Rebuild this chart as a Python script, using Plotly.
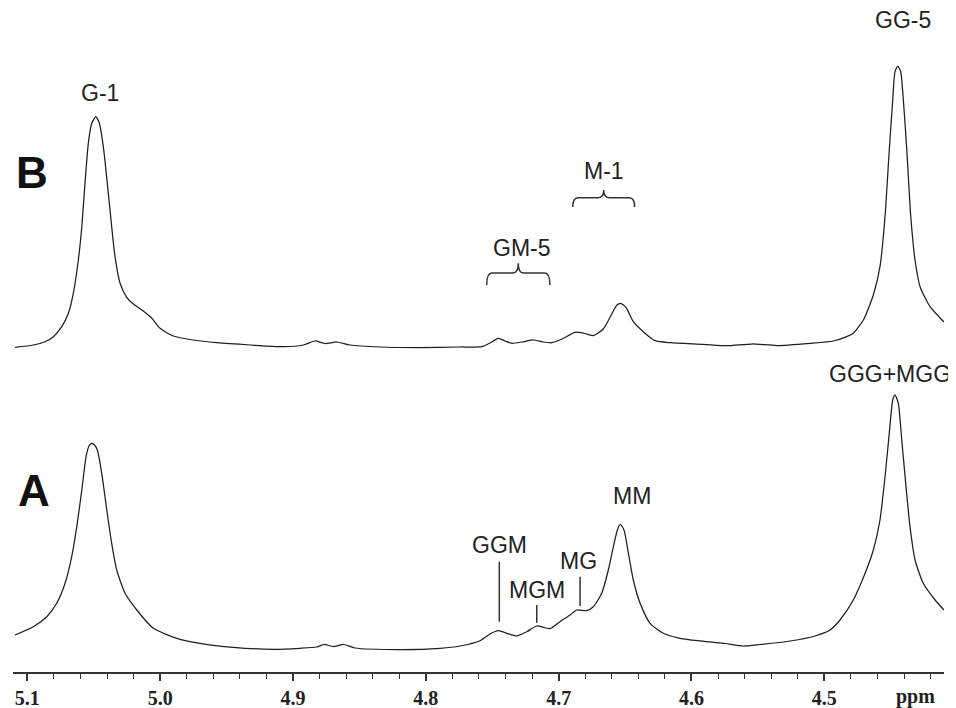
import plotly.graph_objects as go

# ---------------- data ----------------
# Trace B (upper spectrum): chemical shift (ppm) and signal height above its baseline
ppm_B = [5.1093, 5.0955, 5.0867, 5.0804, 5.0741, 5.0691, 5.0654, 5.0616, 5.0590, 5.0566,
         5.0541, 5.0515, 5.0485, 5.0458, 5.0428, 5.0398, 5.0365, 5.0340, 5.0302, 5.0252,
         5.0202, 5.0127, 5.0063, 5.0001, 4.9901, 4.9750, 4.9574, 4.9323, 4.9073, 4.8922,
         4.8834, 4.8759, 4.8668, 4.8571, 4.8345, 4.8044, 4.7742, 4.7579, 4.7517, 4.7454,
         4.7404, 4.7353, 4.7276, 4.7191, 4.7118, 4.7052, 4.6967, 4.6877, 4.6801, 4.6739,
         4.6664, 4.6624, 4.6588, 4.6561, 4.6534, 4.6512, 4.6488, 4.6438, 4.6363, 4.6274,
         4.6161, 4.5911, 4.5735, 4.5546, 4.5358, 4.5108, 4.4932, 4.4831, 4.4782, 4.4706,
         4.4631, 4.4581, 4.4543, 4.4511, 4.4485, 4.4468, 4.4447, 4.4425, 4.4405, 4.4379,
         4.4349, 4.4317, 4.4279, 4.4204, 4.4099]
int_B = [0.7, 3.0, 6.3, 11.3, 21.3, 34.7, 54.7, 88.0, 121.3, 164.7,
         204.7, 224.7, 231.3, 224.7, 201.3, 164.7, 121.3, 91.3, 64.7, 50.7,
         44.0, 37.0, 29.7, 19.7, 12.0, 8.0, 5.3, 3.0, 1.3, 3.0,
         7.0, 4.5, 6.0, 3.0, 1.0, 0.5, 1.0, 1.3, 5.0, 9.7,
         7.0, 4.7, 6.0, 8.0, 6.0, 5.3, 9.5, 15.7, 14.5, 12.3,
         19.0, 28.0, 37.0, 43.0, 44.7, 43.0, 39.7, 26.3, 16.3, 7.3,
         5.3, 3.7, 2.3, 4.0, 2.5, 4.7, 7.0, 11.3, 14.7, 28.0,
         53.0, 81.3, 131.3, 198.0, 248.0, 276.3, 282.0, 276.3, 248.0, 198.0,
         131.3, 88.0, 61.3, 41.3, 26.0]

# Trace A (lower spectrum)
ppm_A = [5.1093, 5.0955, 5.0854, 5.0779, 5.0716, 5.0666, 5.0628, 5.0590, 5.0558, 5.0536,
         5.0515, 5.0494, 5.0473, 5.0440, 5.0402, 5.0365, 5.0327, 5.0264, 5.0176, 5.0051,
         4.9875, 4.9700, 4.9449, 4.9148, 4.8947, 4.8821, 4.8766, 4.8699, 4.8616, 4.8533,
         4.8194, 4.7893, 4.7742, 4.7592, 4.7517, 4.7454, 4.7391, 4.7316, 4.7240, 4.7165,
         4.7115, 4.7065, 4.6990, 4.6914, 4.6864, 4.6789, 4.6739, 4.6676, 4.6626, 4.6588,
         4.6558, 4.6536, 4.6508, 4.6475, 4.6438, 4.6387, 4.6312, 4.6212, 4.6086, 4.5885,
         4.5747, 4.5612, 4.5484, 4.5258, 4.5070, 4.4957, 4.4882, 4.4782, 4.4693, 4.4631,
         4.4581, 4.4543, 4.4511, 4.4485, 4.4468, 4.4443, 4.4417, 4.4385, 4.4355, 4.4317,
         4.4255, 4.4166, 4.4099]
int_A = [15.0, 23.3, 33.3, 46.7, 66.7, 93.3, 123.3, 160.0, 193.3, 204.0,
         206.7, 205.0, 200.0, 176.7, 140.0, 106.7, 80.0, 56.7, 40.0, 21.7,
         11.7, 6.7, 2.7, 0.7, 1.7, 3.0, 5.5, 3.5, 5.5, 2.0,
         0.5, 1.7, 4.0, 9.3, 16.0, 19.3, 16.7, 14.0, 18.3, 24.0,
         22.7, 21.3, 28.3, 35.0, 40.0, 39.3, 43.3, 56.7, 80.0, 103.3,
         120.0, 125.7, 120.0, 96.7, 70.0, 46.7, 26.7, 16.7, 11.7, 8.3,
         6.5, 4.0, 5.5, 9.0, 14.0, 20.0, 30.0, 50.0, 76.7, 100.0,
         130.0, 173.3, 216.7, 250.0, 255.0, 246.7, 210.0, 163.3, 123.3, 90.0,
         66.7, 50.0, 40.0]

# vertical offsets of the two baselines
offset_A = 22
offset_B = 324

# axis ticks
major_ticks = [5.1, 5.0, 4.9, 4.8, 4.7, 4.6, 4.5]
major_labels = ["5.1", "5.0", "4.9", "4.8", "4.7", "4.6", "4.5"]
minor_ticks = [round(5.1 - 0.02 * i, 2) for i in range(35)]

# peak labels: text, ppm, height
label_text = ["G-1", "GG-5", "M-1", "GM-5", "GGM", "MGM", "MG", "MM", "GGG+MGG"]
label_ppm = [5.0453, 4.4407, 4.6658, 4.7276, 4.7445, 4.7165, 4.6854, 4.6450, 4.4505]
label_y = [579, 652, 501.5, 424.5, 127, 82, 111, 176, 298]

# marker sticks under labels (ppm, y bottom, y top)
stick_ppm = [4.7447, 4.7165, 4.6839]
stick_y0 = [50.3, 49.3, 66.0]
stick_y1 = [110.3, 67.0, 95.3]

# curly braces: centre ppm, half width ppm, top y, bottom y
brace_ppm = [4.6661, 4.7304]
brace_half = [0.0233, 0.0238]
brace_top = [482, 408.7]
brace_bot = [465, 387]

line_col = "#1e1e1e"

fig = go.Figure()
fig.add_trace(go.Scatter(x=ppm_B, y=[v + offset_B for v in int_B], mode="lines",
                         line=dict(color=line_col, width=1.25, shape="spline", smoothing=0.6),
                         hoverinfo="skip", showlegend=False))
fig.add_trace(go.Scatter(x=ppm_A, y=[v + offset_A for v in int_A], mode="lines",
                         line=dict(color=line_col, width=1.25, shape="spline", smoothing=0.6),
                         hoverinfo="skip", showlegend=False))

ann_font = dict(family="Liberation Sans, Arial, sans-serif", size=23, color="#222")
annotations = []
for t, x, y in zip(label_text, label_ppm, label_y):
    annotations.append(dict(x=x, y=y, xref="x", yref="y", text=t, showarrow=False,
                            font=ann_font, xanchor="center", yanchor="middle"))
# panel letters
annotations.append(dict(x=5.0968, y=499.5, xref="x", yref="y", text="<b>B</b>", showarrow=False,
                        font=dict(family="Liberation Sans, Arial, sans-serif", size=44, color="#111"),
                        xanchor="center", yanchor="middle"))
annotations.append(dict(x=5.0950, y=181.5, xref="x", yref="y", text="<b>A</b>", showarrow=False,
                        font=dict(family="Liberation Sans, Arial, sans-serif", size=44, color="#111"),
                        xanchor="center", yanchor="middle"))
# axis unit
annotations.append(dict(x=4.4314, y=0, xref="x", yref="paper", yshift=-24, text="<b>ppm</b>",
                        showarrow=False, xanchor="center", yanchor="middle",
                        font=dict(family="Liberation Serif, Times New Roman, serif", size=20, color="#222")))

shapes = []
for x, y0, y1 in zip(stick_ppm, stick_y0, stick_y1):
    shapes.append(dict(type="line", xref="x", yref="y", x0=x, x1=x, y0=y0, y1=y1,
                       line=dict(color="#333", width=1.5)))

d = 0.004
for xc, hw, yt, yb in zip(brace_ppm, brace_half, brace_top, brace_bot):
    ya = yb + 0.55 * (yt - yb)
    xl, xr = xc + hw, xc - hw
    path = (f"M {xl},{yb} Q {xl},{ya} {xl - d},{ya} L {xc + d},{ya} Q {xc},{ya} {xc},{yt} "
            f"Q {xc},{ya} {xc - d},{ya} L {xr + d},{ya} Q {xr},{ya} {xr},{yb}")
    shapes.append(dict(type="path", xref="x", yref="y", path=path,
                       line=dict(color="#333", width=1.5)))

# the page body adds an 8 px margin, so the figure is sized to fill the rest of the window
fig.update_layout(
    width=948, height=700,
    margin=dict(l=5, r=12, t=0, b=36),
    paper_bgcolor="white", plot_bgcolor="white",
    annotations=annotations, shapes=shapes,
    xaxis=dict(range=[5.1108, 4.4099], showgrid=False, zeroline=False,
               showline=True, linecolor="#333", linewidth=2,
               ticks="outside", ticklen=7, tickwidth=1.5, tickcolor="#333",
               tickmode="array", tickvals=major_ticks, ticktext=major_labels,
               tickfont=dict(family="Liberation Serif, Times New Roman, serif", size=20,
                             color="#222", weight="bold"),
               minor=dict(tickmode="array", tickvals=minor_ticks, ticks="outside",
                          ticklen=5, tickwidth=1.3, tickcolor="#333", showgrid=False)),
    yaxis=dict(range=[0, 664], visible=False, showgrid=False, zeroline=False),
)

fig.write_html("out.html")
